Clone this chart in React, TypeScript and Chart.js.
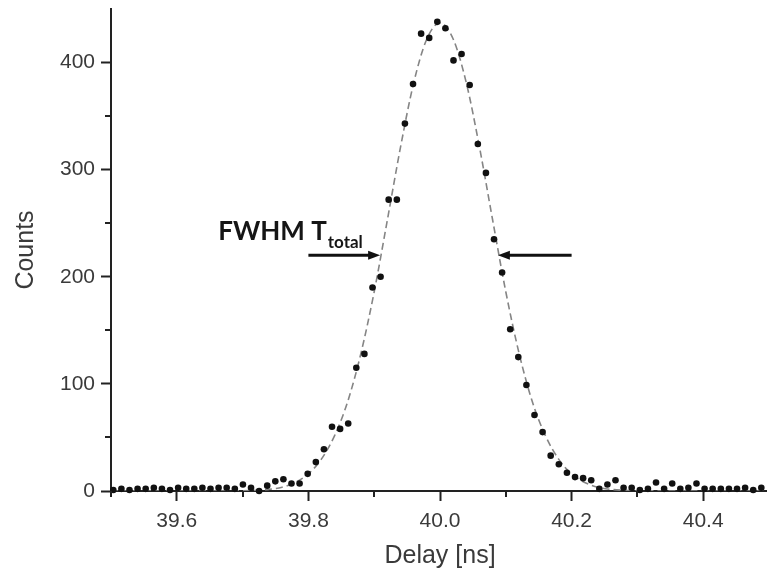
import { useEffect, useRef } from 'react';
import { Chart, registerables } from 'chart.js';

Chart.register(...registerables);

// Measured histogram (bin centre delay in ns, counts)
const delayNs = [
  39.5035, 39.5158, 39.5281, 39.5404, 39.5527, 39.5651, 39.5774, 39.5897, 39.6020, 39.6143,
  39.6266, 39.6389, 39.6512, 39.6635, 39.6758, 39.6882, 39.7005, 39.7128, 39.7251, 39.7374,
  39.7497, 39.7620, 39.7743, 39.7866, 39.7989, 39.8113, 39.8236, 39.8359, 39.8482, 39.8605,
  39.8728, 39.8851, 39.8974, 39.9097, 39.9220, 39.9344, 39.9467, 39.9590, 39.9713, 39.9836,
  39.9959, 40.0082, 40.0205, 40.0328, 40.0451, 40.0575, 40.0698, 40.0821, 40.0944, 40.1067,
  40.1190, 40.1313, 40.1436, 40.1559, 40.1682, 40.1806, 40.1929, 40.2052, 40.2175, 40.2298,
  40.2421, 40.2544, 40.2667, 40.2790, 40.2913, 40.3037, 40.3160, 40.3283, 40.3406, 40.3529,
  40.3652, 40.3775, 40.3898, 40.4021, 40.4144, 40.4268, 40.4391, 40.4514, 40.4637, 40.4760,
  40.4883,
];
const counts = [
  1, 2, 1, 2, 2, 3, 2, 1, 3, 2,
  2, 3, 2, 3, 3, 2, 6, 3, 0, 5,
  9, 11, 7, 7, 16, 27, 39, 60, 58, 63,
  115, 128, 190, 200, 272, 272, 343, 380, 427, 423,
  438, 432, 402, 408, 379, 324, 297, 235, 204, 151,
  125, 99, 71, 55, 33, 25, 17, 13, 12, 10,
  2, 6, 10, 3, 3, 1, 2, 8, 2, 7,
  2, 3, 7, 2, 2, 2, 2, 2, 3, 1,
  3,
];

// Gaussian fit curve
const fitDelayNs = [
  39.50, 39.52, 39.54, 39.56, 39.58, 39.60, 39.62, 39.64, 39.66, 39.68,
  39.70, 39.72, 39.74, 39.76, 39.78, 39.80, 39.82, 39.84, 39.86, 39.88,
  39.90, 39.92, 39.94, 39.96, 39.98, 40.00, 40.02, 40.04, 40.06, 40.08,
  40.10, 40.12, 40.14, 40.16, 40.18, 40.20, 40.22, 40.24, 40.26, 40.28,
  40.30, 40.32, 40.34, 40.36, 40.38, 40.40, 40.42, 40.44, 40.46, 40.48,
  40.50,
];
const fitCounts = [
  0, 0, 0, 0, 0, 0, 0, 0, 0, 0.1,
  0.2, 0.6, 1.5, 3.5, 8, 16, 30, 52, 84, 129,
  186, 253, 321, 381, 422, 437, 422, 381, 321, 253,
  186, 129, 84, 52, 30, 16, 8, 3.5, 1.5, 0.6,
  0.2, 0.1, 0, 0, 0, 0, 0, 0, 0, 0,
  0,
];

const xMajorTicks = [39.6, 39.8, 40.0, 40.2, 40.4];
const xMinorTicks = [39.5, 39.7, 39.9, 40.1, 40.3, 40.5];
const yMajorTicks = [0, 100, 200, 300, 400];
const yMinorTicks = [50, 150, 250, 350];

const xRange = [39.5, 40.5];
const yRange = [0, 450];

// FWHM annotation (data coordinates)
const fwhmLevel = 220;
const leftArrowNs = [39.8, 39.909];
const rightArrowNs = [40.2, 40.088];
const fwhmLabelNs = 39.663;
const fwhmLabelCounts = 234;
const fwhmMain = 'FWHM T';
const fwhmSub = 'total';

const AXIS = '#222222';
const TEXT = '#3a3a3a';

const minorTickPlugin = {
  id: 'minorTicks',
  afterDraw(chart: any) {
    const { ctx, scales, chartArea } = chart;
    const xs = scales.x;
    const ys = scales.y;
    ctx.save();
    ctx.strokeStyle = AXIS;
    ctx.lineWidth = 2;
    ctx.beginPath();
    xMinorTicks.forEach((v) => {
      const px = Math.round(xs.getPixelForValue(v));
      ctx.moveTo(px, chartArea.bottom);
      ctx.lineTo(px, chartArea.bottom + 6);
    });
    yMinorTicks.forEach((v) => {
      const py = Math.round(ys.getPixelForValue(v));
      ctx.moveTo(chartArea.left - 6, py);
      ctx.lineTo(chartArea.left, py);
    });
    ctx.stroke();
    ctx.restore();
  },
};

const fwhmPlugin = {
  id: 'fwhm',
  afterDatasetsDraw(chart: any) {
    const { ctx, scales } = chart;
    const xs = scales.x;
    const ys = scales.y;
    const py = ys.getPixelForValue(fwhmLevel);
    const drawArrow = (from: number, to: number) => {
      const p0 = xs.getPixelForValue(from);
      const p1 = xs.getPixelForValue(to);
      const dir = Math.sign(p1 - p0);
      ctx.strokeStyle = '#111';
      ctx.fillStyle = '#111';
      ctx.lineWidth = 3;
      ctx.beginPath();
      ctx.moveTo(p0, py);
      ctx.lineTo(p1 - dir * 8, py);
      ctx.stroke();
      ctx.beginPath();
      ctx.moveTo(p1, py);
      ctx.lineTo(p1 - dir * 12, py - 4.5);
      ctx.lineTo(p1 - dir * 12, py + 4.5);
      ctx.closePath();
      ctx.fill();
    };
    ctx.save();
    drawArrow(leftArrowNs[0], leftArrowNs[1]);
    drawArrow(rightArrowNs[0], rightArrowNs[1]);
    const tx = xs.getPixelForValue(fwhmLabelNs);
    const ty = ys.getPixelForValue(fwhmLabelCounts);
    ctx.fillStyle = '#151515';
    ctx.textBaseline = 'alphabetic';
    ctx.textAlign = 'left';
    ctx.font = 'bold 26px Lato, "Open Sans", sans-serif';
    ctx.fillText(fwhmMain, tx, ty);
    const w = ctx.measureText(fwhmMain).width;
    ctx.font = 'bold 17px Lato, "Open Sans", sans-serif';
    ctx.fillText(fwhmSub, tx + w + 1, ty + 8);
    ctx.restore();
  },
};

const zeroPadding = (s: any) => {
  s.paddingTop = 0;
  s.paddingBottom = 0;
  s.paddingLeft = 0;
  s.paddingRight = 0;
};

export default function App() {
  const canvasRef = useRef<HTMLCanvasElement | null>(null);

  useEffect(() => {
    document.body.style.margin = '0';
    const canvas = canvasRef.current;
    if (!canvas) return;
    const tickFont = { family: '"Liberation Sans", Arial, sans-serif', size: 21 };
    const titleFont = { family: '"Liberation Sans", Arial, sans-serif', size: 25 };
    const chart = new Chart(canvas, {
      type: 'scatter',
      data: {
        datasets: [
          {
            label: 'Counts',
            data: delayNs.map((d, i) => ({ x: d, y: counts[i] })),
            backgroundColor: '#111111',
            borderWidth: 0,
            pointRadius: 3.3,
            showLine: false,
            clip: false as any,
          },
          {
            label: 'Fit',
            data: fitDelayNs.map((d, i) => ({ x: d, y: fitCounts[i] })),
            showLine: true,
            borderColor: '#858585',
            borderWidth: 1.6,
            borderDash: [7, 4],
            pointRadius: 0,
            cubicInterpolationMode: 'monotone',
            fill: false,
          },
        ],
      },
      options: {
        responsive: false,
        animation: false,
        devicePixelRatio: 1,
        layout: { padding: { top: 9, left: 0, right: 0, bottom: 0 } },
        plugins: {
          legend: { display: false },
          tooltip: { enabled: false },
        },
        scales: {
          x: {
            type: 'linear',
            min: xRange[0],
            max: xRange[1],
            afterBuildTicks: (s: any) => {
              s.ticks = xMajorTicks.map((v) => ({ value: v }));
            },
            afterFit: (s: any) => {
              s.height = 86;
              zeroPadding(s);
            },
            ticks: {
              autoSkip: false,
              maxRotation: 0,
              padding: 8,
              color: TEXT,
              font: tickFont,
              callback: (v: any) => Number(v).toFixed(1),
            },
            grid: {
              drawOnChartArea: false,
              drawTicks: true,
              tickLength: 10,
              tickWidth: 2,
              tickColor: AXIS,
            },
            border: { display: true, color: AXIS, width: 2 },
            title: {
              display: true,
              text: 'Delay [ns]',
              color: TEXT,
              font: titleFont,
              padding: { top: 0, bottom: 6 },
            },
          },
          y: {
            type: 'linear',
            min: yRange[0],
            max: yRange[1],
            afterBuildTicks: (s: any) => {
              s.ticks = yMajorTicks.map((v) => ({ value: v }));
            },
            afterFit: (s: any) => {
              s.width = 111;
              zeroPadding(s);
            },
            ticks: {
              autoSkip: false,
              padding: 6,
              color: TEXT,
              font: tickFont,
              callback: (v: any) => String(Math.round(Number(v))),
            },
            grid: {
              drawOnChartArea: false,
              drawTicks: true,
              tickLength: 10,
              tickWidth: 2,
              tickColor: AXIS,
            },
            border: { display: true, color: AXIS, width: 2 },
            title: {
              display: true,
              text: 'Counts',
              color: TEXT,
              font: titleFont,
              padding: { top: 11, bottom: 0 },
            },
          },
        },
      } as any,
      plugins: [minorTickPlugin, fwhmPlugin],
    });
    return () => chart.destroy();
  }, []);

  return (
    <div style={{ width: 767, height: 577, overflow: 'hidden', background: '#fff' }}>
      <canvas ref={canvasRef} width={773} height={577} style={{ width: 773, height: 577, display: 'block' }} />
    </div>
  );
}
